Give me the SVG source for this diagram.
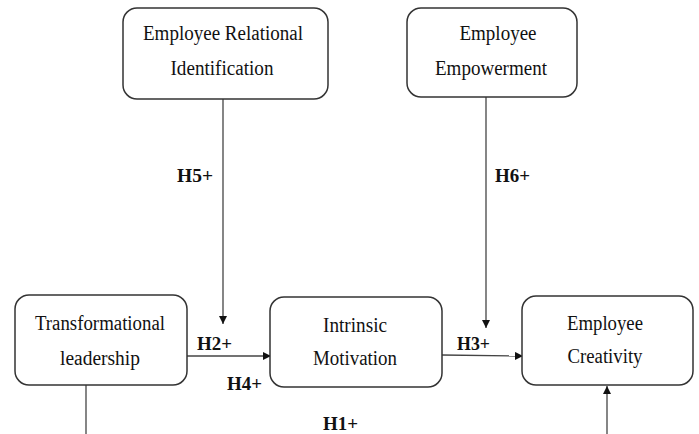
<svg xmlns="http://www.w3.org/2000/svg" width="699" height="434" viewBox="0 0 699 434">
<style>
.box{fill:#fff;stroke:#333;stroke-width:1.5}
.t{font-family:"Liberation Serif","Times New Roman",serif;font-size:20.5px;fill:#111}
.h{font-family:"Liberation Serif","Times New Roman",serif;font-size:19px;font-weight:bold;fill:#111}
.c{stroke:#444;stroke-width:1.3;fill:none}
</style>
<defs>
<marker id="ah" viewBox="0 0 10 10" refX="10" refY="5" markerWidth="8" markerHeight="8" markerUnits="userSpaceOnUse" orient="auto">
<path d="M0,0 L10,5 L0,10 z" fill="#111"/>
</marker>
</defs>
<rect width="699" height="434" fill="#fff"/>
<g id="connectors">
<line class="c" x1="223" y1="99" x2="223" y2="324" marker-end="url(#ah)"/>
<line class="c" x1="486" y1="97" x2="486" y2="328" marker-end="url(#ah)"/>
<line class="c" x1="187" y1="356" x2="271" y2="356" marker-end="url(#ah)"/>
<line class="c" x1="442" y1="355" x2="523" y2="356" marker-end="url(#ah)"/>
<line class="c" x1="86" y1="385" x2="86" y2="434"/>
<line class="c" x1="607" y1="434" x2="607" y2="386" marker-end="url(#ah)"/>
</g>
<g id="eri">
<rect class="box" x="123" y="8" width="205" height="91" rx="14"/>
<text class="t" x="223" y="40" text-anchor="middle" textLength="160" lengthAdjust="spacingAndGlyphs">Employee Relational</text>
<text class="t" x="222" y="75" text-anchor="middle" textLength="103" lengthAdjust="spacingAndGlyphs">Identification</text>
</g>
<g id="ee">
<rect class="box" x="407" y="8" width="170" height="89" rx="14"/>
<text class="t" x="498" y="40" text-anchor="middle" textLength="77" lengthAdjust="spacingAndGlyphs">Employee</text>
<text class="t" x="491" y="75" text-anchor="middle" textLength="112" lengthAdjust="spacingAndGlyphs">Empowerment</text>
</g>
<g id="tl">
<rect class="box" x="15" y="295" width="172" height="90" rx="14"/>
<text class="t" x="100" y="330" text-anchor="middle" textLength="130" lengthAdjust="spacingAndGlyphs">Transformational</text>
<text class="t" x="100" y="365" text-anchor="middle" textLength="80" lengthAdjust="spacingAndGlyphs">leadership</text>
</g>
<g id="im">
<rect class="box" x="270" y="297" width="172" height="90" rx="14"/>
<text class="t" x="355" y="332" text-anchor="middle" textLength="64" lengthAdjust="spacingAndGlyphs">Intrinsic</text>
<text class="t" x="355" y="365" text-anchor="middle" textLength="84" lengthAdjust="spacingAndGlyphs">Motivation</text>
</g>
<g id="ec">
<rect class="box" x="522" y="296" width="171" height="89" rx="14"/>
<text class="t" x="605" y="330" text-anchor="middle" textLength="76" lengthAdjust="spacingAndGlyphs">Employee</text>
<text class="t" x="605" y="363" text-anchor="middle" textLength="75" lengthAdjust="spacingAndGlyphs">Creativity</text>
</g>
<g id="labels">
<text class="h" x="177" y="182" textLength="36" lengthAdjust="spacingAndGlyphs">H5+</text>
<text class="h" x="495" y="182" textLength="35" lengthAdjust="spacingAndGlyphs">H6+</text>
<text class="h" x="197" y="350" textLength="35" lengthAdjust="spacingAndGlyphs">H2+</text>
<text class="h" x="227" y="390" textLength="35" lengthAdjust="spacingAndGlyphs">H4+</text>
<text class="h" x="457" y="350" textLength="33" lengthAdjust="spacingAndGlyphs">H3+</text>
<text class="h" x="323" y="430" textLength="35" lengthAdjust="spacingAndGlyphs">H1+</text>
</g>
</svg>
